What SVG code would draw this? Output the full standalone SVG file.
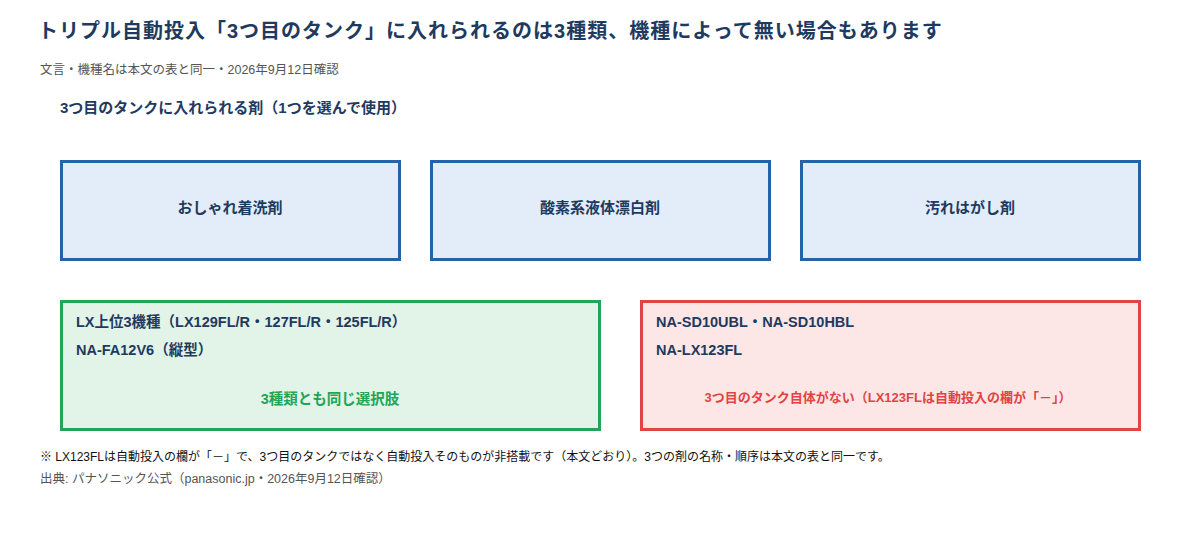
<svg xmlns="http://www.w3.org/2000/svg" width="1200" height="560" viewBox="0 0 1200 560">
<style>
text{font-family:"Liberation Sans","Noto Sans CJK JP",sans-serif}
.t{font-size:20px;font-weight:bold;fill:#1f3a5f;letter-spacing:1px}
.s{font-size:12.5px;fill:#555}
.h{font-size:15px;font-weight:bold;fill:#1f3a5f}
.box{fill:#e3edf9;stroke:#2563a6;stroke-width:3}
.bl{font-size:15px;font-weight:bold;fill:#1f3a5f;text-anchor:middle}
.m{font-size:14.5px;font-weight:bold;fill:#1f3a5f}
.n{font-size:12px;fill:#111}
</style>
<rect width="1200" height="560" fill="#fff"/>
<text x="38" y="38" class="t">トリプル自動投入「3つ目のタンク」に入れられるのは3種類、機種によって無い場合もあります</text>
<text x="40" y="74" class="s">文言・機種名は本文の表と同一・2026年9月12日確認</text>
<text x="60" y="113" class="h">3つ目のタンクに入れられる剤（1つを選んで使用）</text>
<g id="n1"><rect x="61.5" y="161.5" width="338" height="98" class="box"/><text x="230" y="213" class="bl">おしゃれ着洗剤</text></g>
<g id="n2"><rect x="431.5" y="161.5" width="338" height="98" class="box"/><text x="600" y="213" class="bl">酸素系液体漂白剤</text></g>
<g id="n3"><rect x="801.5" y="161.5" width="338" height="98" class="box"/><text x="970" y="213" class="bl">汚れはがし剤</text></g>
<g id="g1"><rect x="61.5" y="301.5" width="538" height="128" fill="#e2f3e8" stroke="#22a556" stroke-width="3"/>
<text x="76" y="327" class="m">LX上位3機種（LX129FL/R・127FL/R・125FL/R）</text>
<text x="76" y="355" class="m">NA-FA12V6（縦型）</text>
<text x="330" y="404" class="m" style="fill:#22a556" text-anchor="middle">3種類とも同じ選択肢</text></g>
<g id="g2"><rect x="641.5" y="301.5" width="498" height="128" fill="#fce6e6" stroke="#e04444" stroke-width="3"/>
<text x="656" y="327" class="m">NA-SD10UBL・NA-SD10HBL</text>
<text x="656" y="355" class="m">NA-LX123FL</text>
<text x="888" y="402" font-size="13" font-weight="bold" fill="#e04444" text-anchor="middle">3つ目のタンク自体がない（LX123FLは自動投入の欄が「－」）</text></g>
<g id="connectors"></g>
<text x="40" y="461" class="n">※ LX123FLは自動投入の欄が「－」で、3つ目のタンクではなく自動投入そのものが非搭載です（本文どおり）。3つの剤の名称・順序は本文の表と同一です。</text>
<text x="40" y="483" class="s">出典: パナソニック公式（panasonic.jp・2026年9月12日確認）</text>
</svg>
